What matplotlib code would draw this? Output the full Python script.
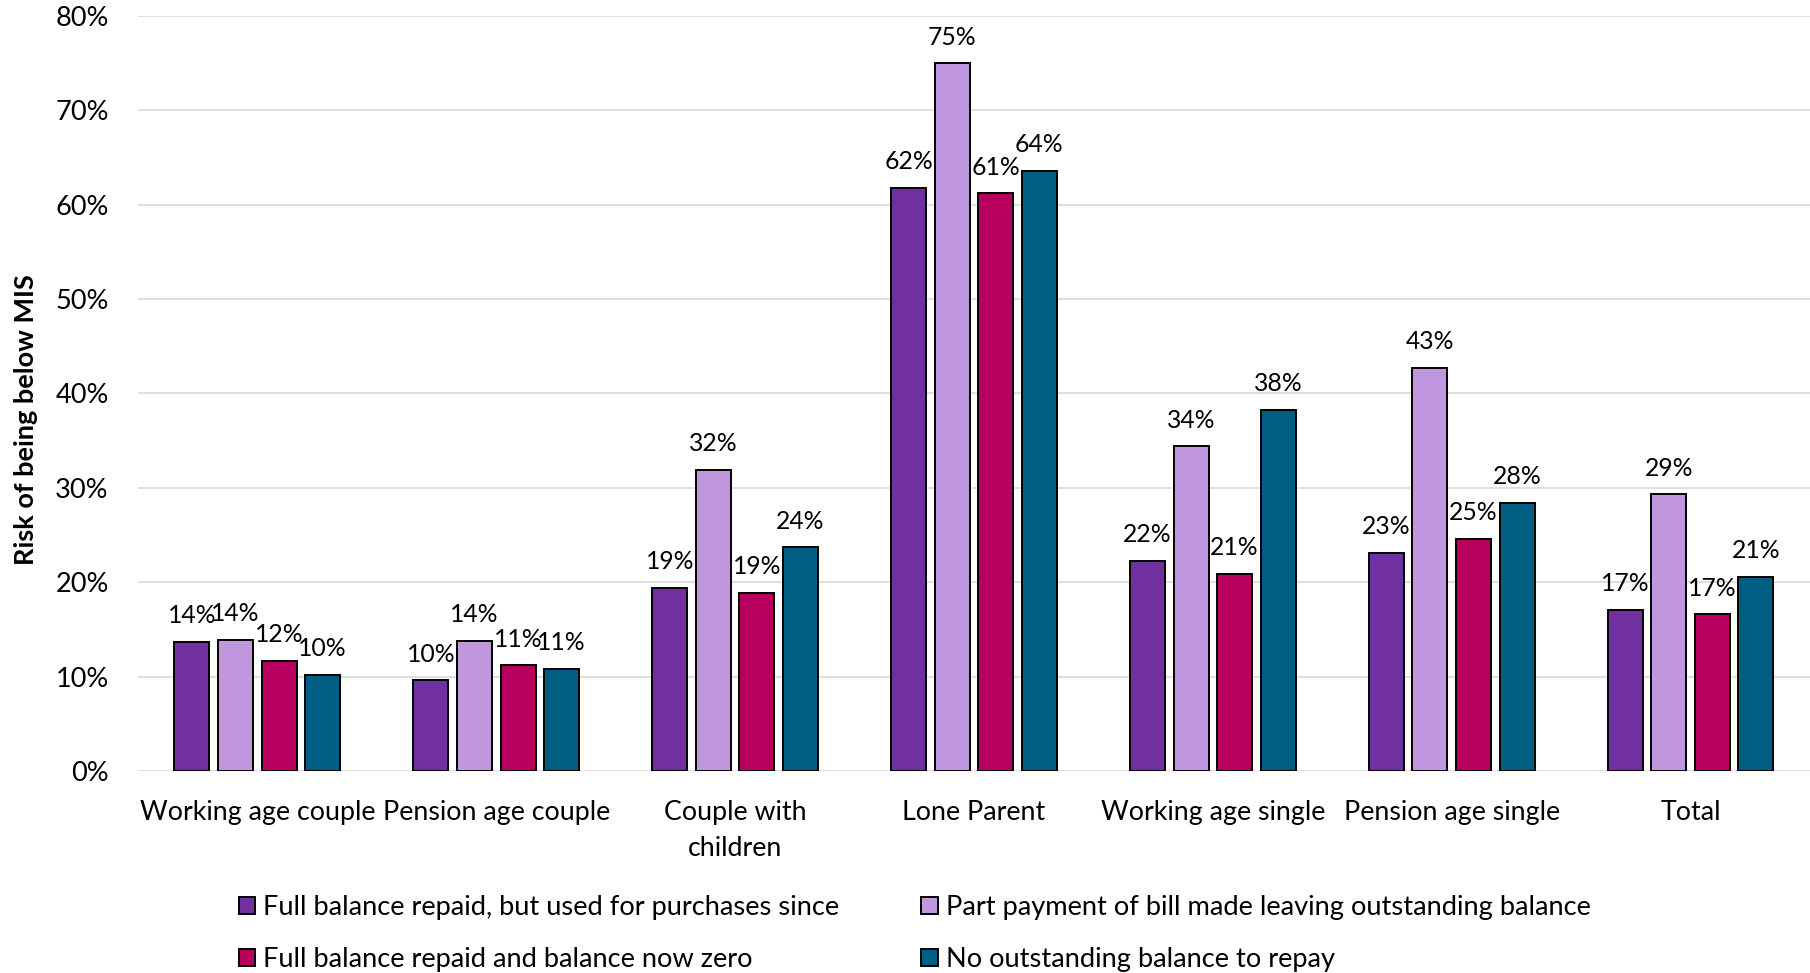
import matplotlib
matplotlib.use("Agg")
import matplotlib.pyplot as plt
import numpy as np
from matplotlib.patches import Patch

plt.rcParams['font.family'] = ['Lato', 'DejaVu Sans']

categories = ["Working age couple", "Pension age couple", "Couple with\nchildren",
              "Lone Parent", "Working age single", "Pension age single", "Total"]

series_names = [
    "Full balance repaid, but used for purchases since",
    "Part payment of bill made leaving outstanding balance",
    "Full balance repaid and balance now zero",
    "No outstanding balance to repay",
]

# Risk of being below MIS (%)
full_repaid_used = [13.7, 9.6, 19.4, 61.8, 22.3, 23.1, 17.1]
part_payment = [13.9, 13.8, 31.9, 75.0, 34.4, 42.7, 29.3]
full_repaid_zero = [11.7, 11.2, 18.9, 61.2, 20.9, 24.6, 16.6]
no_balance = [10.2, 10.8, 23.7, 63.6, 38.3, 28.4, 20.6]

y_ticks = [0, 10, 20, 30, 40, 50, 60, 70, 80]

series_values = [full_repaid_used, part_payment, full_repaid_zero, no_balance]
colors = ["#7030A0", "#C096DE", "#B8005E", "#005E82"]

fig = plt.figure(figsize=(18.10, 9.73), dpi=100)
ax = fig.add_axes([0.0762, 0.2076, 0.9238, 0.776])

x = np.arange(len(categories))
step = 0.1825
width = 0.1465

for j, (vals, col) in enumerate(zip(series_values, colors)):
    pos = x + (j - 1.5) * step
    bars = ax.bar(pos, vals, width=width, color=col, edgecolor="black",
                  linewidth=1.4, zorder=3)
    for b, v in zip(bars, vals):
        ax.annotate(f"{v:.0f}%", (b.get_x() + b.get_width() / 2, v),
                    xytext=(0, 10.5), textcoords="offset points",
                    ha="center", va="bottom", fontsize=17.8, color="black")

ax.set_xlim(-0.5, len(categories) - 0.5)
ax.set_ylim(0, 80)
ax.set_yticks(y_ticks)
ax.set_yticklabels([f"{t}%" for t in y_ticks])
ax.yaxis.grid(True, color="#D9D9D9", linewidth=1.2, zorder=0)
ax.set_axisbelow(True)
for s in ax.spines.values():
    s.set_visible(False)
ax.set_xticks(x)
ax.set_xticklabels(categories, fontsize=19.3, linespacing=1.55)
ax.tick_params(axis="x", length=0, pad=21)
ax.tick_params(axis="y", length=0, pad=21, labelsize=19.5)

fig.text(0.0145, 0.569, "Risk of being below MIS", rotation=90,
         ha="center", va="center", fontsize=19.5, fontweight="bold")

handles = [Patch(facecolor=c, edgecolor="black", linewidth=1.4) for c in colors]
order = [0, 2, 1, 3]
fig.legend([handles[i] for i in order], [series_names[i] for i in order],
           ncol=2, loc="upper left", bbox_to_anchor=(0.132, 0.080),
           frameon=False, fontsize=19.6, handlelength=0.6, handleheight=0.6,
           handletextpad=0.3, columnspacing=3.0, labelspacing=1.0,
           borderpad=0, borderaxespad=0)

fig.savefig("out.png", dpi=100)
